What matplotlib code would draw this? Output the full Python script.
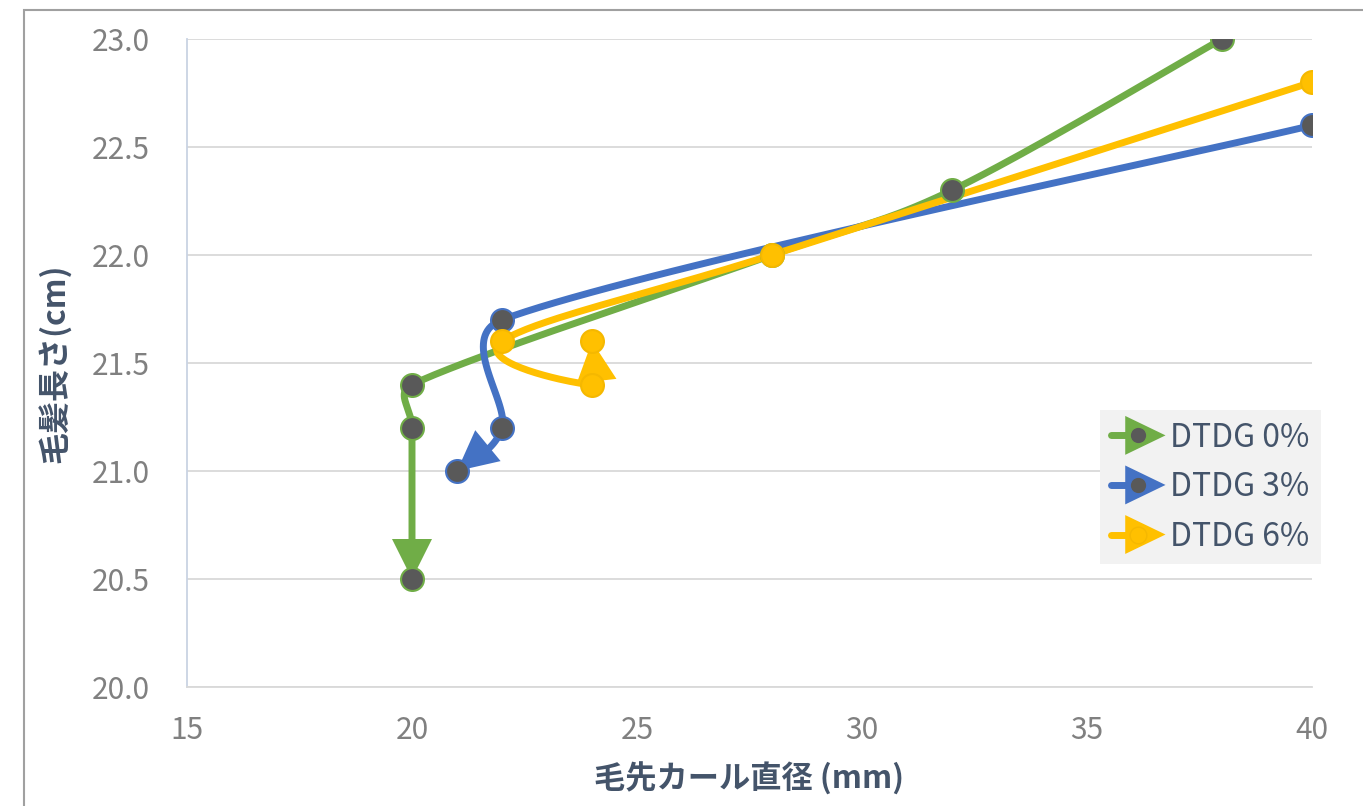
import matplotlib
matplotlib.use("Agg")
import matplotlib.pyplot as plt
import numpy as np
from matplotlib.lines import Line2D
from matplotlib.patches import Polygon, Rectangle
from matplotlib.legend_handler import HandlerBase

plt.rcParams['font.family'] = ['Noto Sans CJK JP', 'DejaVu Sans']

# curl diameter (mm) vs hair length (cm), in drawing order
x_0 = [38, 32, 28, 20, 20, 20]
y_0 = [23.0, 22.3, 22.0, 21.4, 21.2, 20.5]
x_3 = [40, 22, 22, 21]
y_3 = [22.6, 21.7, 21.2, 21.0]
x_6 = [40, 28, 22, 24, 24]
y_6 = [22.8, 22.0, 21.6, 21.4, 21.6]
labels = ['DTDG 0%', 'DTDG 3%', 'DTDG 6%']

GREEN = '#70AD47'
BLUE = '#4472C4'
GOLD = '#FFC000'
MARK = '#595959'
TXT = '#44546A'
TICK = '#808080'

fig = plt.figure(figsize=(13.63, 8.06), dpi=100)
ax = fig.add_axes([187/1363, 1-687/806, (1312-187)/1363, (687-39)/806])
ax.set_xlim(15, 40)
ax.set_ylim(20.0, 23.0)

# outer chart frame
fig.patches.append(Rectangle((24/1363, -0.1), 2.0, 1.1 - 10/806, transform=fig.transFigure,
                             fill=False, edgecolor='#A0A0A0', lw=1.5, zorder=0))


def smooth(xs, ys, n=40):
    # bezier smoothing in display space, tangents limited by segment length
    pts = ax.transData.transform(np.column_stack([xs, ys]))
    m = len(pts)
    tang = []
    for i in range(m):
        d = pts[min(i + 1, m - 1)] - pts[max(i - 1, 0)]
        tang.append(d)
    out = [pts[0]]
    for i in range(m - 1):
        p1, p2 = pts[i], pts[i + 1]
        seg = np.hypot(*(p2 - p1))
        ctl = []
        for t_ in (tang[i], tang[i + 1]):
            ln = np.hypot(*t_)
            mag = min(ln / 6.0, 0.45 * seg)
            ctl.append(t_ / ln * mag if ln > 0 else t_ * 0)
        c1 = p1 + ctl[0]
        c2 = p2 - ctl[1]
        t = np.linspace(0, 1, n)[1:, None]
        out.extend(((1 - t) ** 3) * p1 + 3 * ((1 - t) ** 2) * t * c1
                   + 3 * (1 - t) * t ** 2 * c2 + t ** 3 * p2)
    return np.array(out)


def draw_series(xs, ys, color, face, edge):
    curve = smooth(xs, ys)
    tip = curve[-1]
    d = tip - curve[-4]
    d = d / np.hypot(*d)
    nrm = np.array([-d[1], d[0]])
    L, W = 40.0, 20.0
    base = tip - d * L
    # stop the line under the arrow head
    dist = np.hypot(*(curve - tip).T)
    keep = curve[dist > L * 0.8]
    line = ax.transData.inverted().transform(np.vstack([keep, base + d * 6]))
    ax.plot(line[:, 0], line[:, 1], color=color, lw=5.0, solid_capstyle='round', zorder=3)
    tri = ax.transData.inverted().transform(np.array([base + nrm * W, base - nrm * W, tip]))
    ax.add_patch(Polygon(tri, closed=True, facecolor=color, edgecolor='none', zorder=3))
    ax.plot(xs, ys, ls='none', marker='o', ms=16.5, mfc=face, mec=edge, mew=1.5, zorder=4)


draw_series(x_0, y_0, GREEN, MARK, GREEN)
draw_series(x_3, y_3, BLUE, MARK, BLUE)
draw_series(x_6, y_6, GOLD, GOLD, '#F5B800')

ax.set_xticks([15, 20, 25, 30, 35, 40])
ax.set_yticks([20.0, 20.5, 21.0, 21.5, 22.0, 22.5, 23.0])
ax.set_yticklabels(['%.1f' % v for v in ax.get_yticks()])
ax.tick_params(length=0, labelsize=21.5, colors=TICK)
ax.tick_params(axis='y', pad=27)
ax.tick_params(axis='x', pad=20)
ax.grid(axis='y', color='#D9D9D9', lw=1.3)
ax.set_axisbelow(True)
for s in ['top', 'right']:
    ax.spines[s].set_visible(False)
ax.spines['left'].set_color('#C9D3E3')
ax.spines['bottom'].set_color('#D9D9D9')
ax.spines['left'].set_linewidth(1.3)
ax.spines['bottom'].set_linewidth(1.3)

ax.set_xlabel('毛先カール直径 (mm)', fontsize=22.5, fontweight='bold', color=TXT, labelpad=12)
ax.set_ylabel('毛髪長さ(cm)', fontsize=23, fontweight='bold', color=TXT, labelpad=14)


class ArrowHandle(HandlerBase):
    def create_artists(self, legend, orig_handle, xdescent, ydescent, width, height, fontsize, trans):
        color, face, edge = orig_handle
        y = height / 2 - ydescent
        x0 = -xdescent
        stub = Line2D([x0, x0 + 23], [y, y], color=color, lw=5.0,
                      solid_capstyle='round', transform=trans)
        bx = x0 + 10
        tri = Polygon([[bx, y - 14], [bx, y + 14], [bx + 29, y]], closed=True,
                      facecolor=color, edgecolor='none', transform=trans)
        dot = Line2D([x0 + 19.5], [y], ls='none', marker='o', ms=12,
                     mfc=face, mec=edge, mew=1.0, transform=trans)
        return [stub, tri, dot]


handles = [(GREEN, MARK, GREEN), (BLUE, MARK, BLUE), (GOLD, GOLD, '#F5B800')]
leg = ax.legend(handles, labels, handler_map={tuple: ArrowHandle()},
                loc='lower right', bbox_to_anchor=(1.008, 0.19), fontsize=23,
                frameon=True, facecolor='#F2F2F2', edgecolor='none', fancybox=False,
                handlelength=1.7, handletextpad=0.15, labelspacing=0.55,
                borderpad=0.35, borderaxespad=0)
leg.get_frame().set_alpha(1)
for t in leg.get_texts():
    t.set_color(TXT)

fig.savefig('out.png', dpi=100)
